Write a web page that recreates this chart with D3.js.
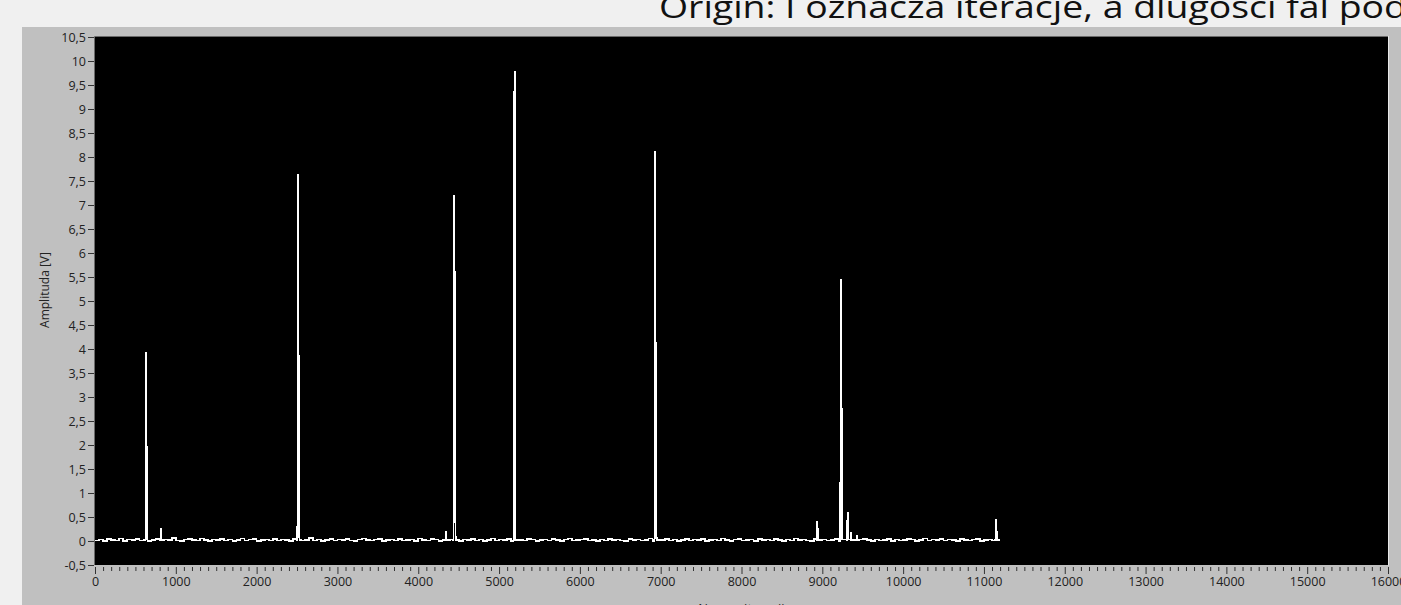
<!DOCTYPE html>
<html>
<head>
<meta charset="utf-8">
<script src="https://cdn.jsdelivr.net/npm/d3@7"></script>
<style>
  html, body { margin: 0; padding: 0; background: #f0f0f0; overflow: hidden; }
  svg { display: block; }
</style>
</head>
<body>
<svg id="chart" width="1401" height="605"></svg>
<script>
// ---- data ----
const titleText = "Origin: I oznacza iteracje, a dlugosci fal pod";
const xLabel = "Numer iteracji";
const yLabel = "Amplituda [V]";
const xTicks = [0, 1000, 2000, 3000, 4000, 5000, 6000, 7000, 8000, 9000, 10000, 11000, 12000, 13000, 14000, 15000, 16000];
const yTicks = [-0.5, 0, 0.5, 1, 1.5, 2, 2.5, 3, 3.5, 4, 4.5, 5, 5.5, 6, 6.5, 7, 7.5, 8, 8.5, 9, 9.5, 10, 10.5];

// background signal, one reading every 50 iterations (0 ... 11200)
const baseStep = 50;
const baseline = [
  0.01,0.03,0.00,0.04,0.02,0.01,0.05,0.00,0.03,0.02,0.04,0.01,0.03,0.00,0.02,
  0.04,0.01,0.03,0.02,0.06,0.01,0.00,0.03,0.04,0.02,0.01,0.05,0.02,0.00,0.03,
  0.02,0.04,0.01,0.03,0.00,0.02,0.05,0.01,0.03,0.04,0.00,0.02,0.03,0.01,0.04,
  0.01,0.03,0.02,0.00,0.04,0.03,0.01,0.02,0.06,0.01,0.03,0.00,0.02,0.04,0.01,
  0.03,0.02,0.04,0.01,0.00,0.03,0.05,0.02,0.01,0.03,0.04,0.00,0.02,0.03,0.01,
  0.04,0.01,0.02,0.03,0.00,0.05,0.02,0.01,0.04,0.03,0.00,0.02,0.01,0.03,0.04,
  0.00,0.03,0.02,0.04,0.01,0.03,0.00,0.02,0.05,0.01,0.03,0.02,0.04,0.00,0.03,
  0.02,0.01,0.04,0.03,0.00,0.02,0.03,0.01,0.04,0.02,0.00,0.03,0.05,0.01,0.02,
  0.03,0.04,0.01,0.02,0.00,0.03,0.01,0.04,0.02,0.03,0.01,0.00,0.04,0.02,0.03,
  0.01,0.02,0.05,0.00,0.03,0.02,0.04,0.01,0.03,0.00,0.02,0.04,0.01,0.03,0.02,
  0.04,0.00,0.02,0.03,0.01,0.05,0.02,0.00,0.03,0.04,0.01,0.02,0.03,0.00,0.04,
  0.02,0.03,0.01,0.04,0.02,0.00,0.03,0.01,0.05,0.02,0.03,0.01,0.00,0.04,0.02,
  0.03,0.01,0.02,0.04,0.00,0.03,0.02,0.05,0.01,0.03,0.04,0.02,0.00,0.03,0.01,
  0.02,0.04,0.00,0.03,0.01,0.02,0.04,0.03,0.00,0.02,0.05,0.01,0.03,0.02,0.04,
  0.01,0.03,0.02,0.00,0.04,0.02,0.01,0.03,0.04,0.00,0.02,0.03,0.01,0.04,0.02
];

// detected pulses: [iteration, amplitude]
const pulse1 = [[622,0.02],[625,1.97],[629,3.93],[632,1.97],[642,1.97],[645,0.03]];
const pulse1b = [[812,0.02],[817,0.25],[822,0.02]];
const pulse2 = [[2495,0.02],[2500,0.3],[2506,7.35],[2510,7.62],[2514,3.85],[2522,3.85],[2526,0.08],[2532,0.02]];
const pulse3a = [[4338,0.02],[4344,0.2],[4350,0.02]];
const pulse3 = [[4430,0.02],[4436,0.4],[4441,7.2],[4446,5.6],[4456,5.6],[4460,0.08],[4466,0.02]];
const pulse4 = [[5178,0.02],[5182,0.5],[5186,9.35],[5192,9.35],[5195,9.77],[5199,0.3],[5204,0.02]];
const pulse5 = [[6918,0.02],[6922,1.84],[6926,1.84],[6930,8.1],[6934,4.13],[6942,4.13],[6946,0.06],[6952,0.02]];
const pulse6a = [[8928,0.02],[8935,0.4],[8940,0.2],[8946,0.25],[8952,0.02]];
const pulse6 = [[9215,0.02],[9219,1.22],[9224,1.22],[9228,5.45],[9232,2.75],[9240,2.75],[9244,0.03]];
const pulse6b = [[9300,0.02],[9305,0.42],[9310,0.08],[9318,0.58],[9324,0.03],[9350,0.02],[9355,0.18],[9360,0.02],[9420,0.01],[9425,0.1],[9430,0.01]];
const pulse7 = [[11140,0.02],[11148,0.45],[11154,0.2],[11160,0.02]];
const pulses = [pulse1, pulse1b, pulse2, pulse3a, pulse3, pulse4, pulse5, pulse6a, pulse6, pulse6b, pulse7];

// ---- assemble the trace ----
const ranges = pulses.map(p => [p[0][0], p[p.length - 1][0]]);
let trace = baseline.map((v, i) => [i * baseStep, v])
  .filter(d => !ranges.some(r => d[0] >= r[0] && d[0] <= r[1]));
pulses.forEach(p => { trace = trace.concat(p); });
trace.sort((a, b) => a[0] - b[0]);

// ---- layout ----
const svg = d3.select("#chart");
const W = 1401, H = 605;
const plot = { left: 95, top: 37, right: 1388, bottom: 565 };

const x = d3.scaleLinear().domain([0, 16000]).range([plot.left, plot.right]);
const y = d3.scaleLinear().domain([-0.5, 10.5]).range([plot.bottom, plot.top]);

const locale = d3.formatLocale({ decimal: ",", thousands: "", grouping: [3], currency: ["", ""], minus: "-" });
const fmtY = locale.format("");
const fmtX = locale.format("d");

const uiFont = "'Open Sans', sans-serif";

// page + panel
svg.append("rect").attr("x", 0).attr("y", 0).attr("width", W).attr("height", H).attr("fill", "#f0f0f0");
svg.append("rect").attr("x", 22).attr("y", 27).attr("width", W - 22).attr("height", H - 27).attr("fill", "#c0c0c0");

// title (runs past the right edge)
svg.append("text")
  .attr("x", 659).attr("y", 18)
  .attr("font-family", uiFont)
  .attr("font-size", 31)
  .attr("textLength", 748)
  .attr("lengthAdjust", "spacingAndGlyphs")
  .attr("fill", "#111")
  .text(titleText);

// plot frame
svg.append("rect")
  .attr("x", plot.left).attr("y", plot.top)
  .attr("width", plot.right - plot.left).attr("height", plot.bottom - plot.top)
  .attr("fill", "#000");
svg.append("path")
  .attr("d", `M${plot.left - 0.5},${plot.bottom}V${plot.top - 0.5}H${plot.right}`)
  .attr("fill", "none").attr("stroke", "#6a6a6a").attr("stroke-width", 1);
svg.append("path")
  .attr("d", `M${plot.right + 0.5},${plot.top - 1}V${plot.bottom + 0.5}`)
  .attr("fill", "none").attr("stroke", "#e8e8e8").attr("stroke-width", 1);

// clip region for the trace
svg.append("clipPath").attr("id", "plotClip")
  .append("rect")
  .attr("x", plot.left).attr("y", plot.top)
  .attr("width", plot.right - plot.left).attr("height", plot.bottom - plot.top);

// y axis
const yAxis = d3.axisLeft(y).tickValues(yTicks).tickFormat(fmtY).tickSize(6).tickPadding(2);
const gy = svg.append("g").attr("transform", `translate(${plot.left - 1},0)`).call(yAxis);
gy.select(".domain").remove();
gy.selectAll(".tick line").attr("stroke", "#333");
gy.selectAll(".tick text")
  .attr("font-family", uiFont).attr("font-size", 12.5).attr("fill", "#222");

// x axis: minor ticks every 100, major every 1000
const minor = d3.range(0, 16001, 100).filter(v => v % 1000 !== 0);
const gxMinor = svg.append("g").attr("transform", `translate(0,${plot.bottom + 2})`)
  .call(d3.axisBottom(x).tickValues(minor).tickFormat("").tickSize(4));
gxMinor.select(".domain").remove();
gxMinor.selectAll(".tick line").attr("stroke", "#333");

const gx = svg.append("g").attr("transform", `translate(0,${plot.bottom + 2})`)
  .call(d3.axisBottom(x).tickValues(xTicks).tickFormat(fmtX).tickSize(7).tickPadding(3));
gx.select(".domain").remove();
gx.selectAll(".tick line").attr("stroke", "#333");
gx.selectAll(".tick text")
  .attr("font-family", uiFont).attr("font-size", 12.5).attr("fill", "#222");

// axis titles
svg.append("text")
  .attr("transform", `translate(49,290) rotate(-90)`)
  .attr("text-anchor", "middle")
  .attr("font-family", uiFont).attr("font-size", 12).attr("fill", "#222")
  .text(yLabel);
svg.append("text")
  .attr("x", (plot.left + plot.right) / 2).attr("y", 613)
  .attr("text-anchor", "middle")
  .attr("font-family", uiFont).attr("font-size", 13).attr("fill", "#222")
  .text(xLabel);

// signal trace (held between samples, like the acquisition display)
const line = d3.line().x(d => x(d[0])).y(d => y(d[1])).curve(d3.curveStepAfter);
svg.append("path")
  .datum(trace)
  .attr("clip-path", "url(#plotClip)")
  .attr("d", line)
  .attr("fill", "none")
  .attr("stroke", "#fff")
  .attr("stroke-width", 1.7)
  .attr("shape-rendering", "crispEdges");
</script>
</body>
</html>
